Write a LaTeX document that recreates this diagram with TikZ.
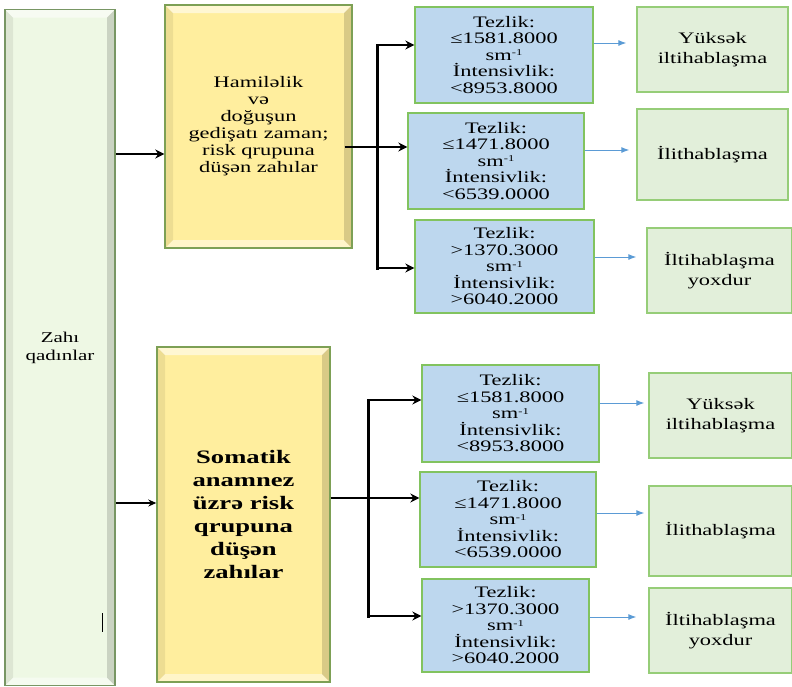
\documentclass[tikz,border=0pt]{standalone}
\usepackage{fontspec}
\setmainfont{Liberation Serif}[FakeStretch=1.4]
\usetikzlibrary{arrows.meta, positioning, calc}
\definecolor{WomenFill}{RGB}{238,248,228}
\definecolor{WomenEdge}{RGB}{120,150,100}
\definecolor{GroupFill}{RGB}{255,238,158}
\definecolor{GroupEdge}{RGB}{125,160,85}
\definecolor{ParamFill}{RGB}{189,215,238}
\definecolor{ParamEdge}{RGB}{130,195,95}
\definecolor{ResultFill}{RGB}{226,239,218}
\definecolor{ResultEdge}{RGB}{150,205,120}
\definecolor{ThinArrow}{RGB}{91,155,213}
\newcommand{\perunit}{sm\raisebox{0.3em}{\fontsize{9}{9}\selectfont -1}}
\newcommand{\paramhigh}{Tezlik:\\≤1581.8000\\\perunit\\İntensivlik:\\<8953.8000}
\newcommand{\parammid}{Tezlik:\\≤1471.8000\\\perunit\\İntensivlik:\\<6539.0000}
\newcommand{\paramlow}{Tezlik:\\>1370.3000\\\perunit\\İntensivlik:\\>6040.2000}

\begin{document}
\begin{tikzpicture}[
        x=1pt, y=-1pt,
        bevel/.style={path picture={
            \path (path picture bounding box.north west) coordinate (bnw)
                  (path picture bounding box.south east) coordinate (bse);
            \fill[white, opacity=0.55] (bnw) -- (bse |- bnw) -- ($(bse |- bnw)+(-8pt,-8pt)$) -- ($(bnw)+(8pt,-8pt)$) -- cycle;
            \fill[white, opacity=0.45] (bnw |- bse) -- (bse) -- ($(bse)+(-8pt,8pt)$) -- ($(bnw |- bse)+(8pt,8pt)$) -- cycle;
            \fill[black, opacity=0.07] (bnw) -- (bnw |- bse) -- ($(bnw |- bse)+(8pt,8pt)$) -- ($(bnw)+(8pt,-8pt)$) -- cycle;
            \fill[black, opacity=0.15] (bse |- bnw) -- (bse) -- ($(bse)+(-8pt,8pt)$) -- ($(bse |- bnw)+(-8pt,-8pt)$) -- cycle;
        }},
        women/.style={rectangle, bevel, draw=WomenEdge, fill=WomenFill, line width=1.6pt, align=center, inner sep=0pt, font=\fontsize{15}{18}\selectfont},
        group/.style={rectangle, bevel, draw=GroupEdge, fill=GroupFill, line width=1.4pt, align=center, inner sep=0pt, font=\fontsize{16}{17}\selectfont},
        param/.style={rectangle, draw=ParamEdge, fill=ParamFill, line width=1.3pt, align=center, inner sep=0pt, font=\fontsize{16}{16.5}\selectfont},
        result/.style={rectangle, draw=ResultEdge, fill=ResultFill, line width=1.3pt, align=center, inner sep=0pt, font=\fontsize{16}{20}\selectfont},
        bus/.style={line width=3pt, line cap=rect},
        busarrow/.style={line width=2.5pt, -{Stealth[length=9pt, width=9pt]}},
        thinarrow/.style={ThinArrow, line width=1pt, -{Latex[length=8pt, width=6pt]}}
    ]
    
    \useasboundingbox (0,0) rectangle (792,686);
    
    \node[women, minimum width=110pt, minimum height=676pt] (women) at (60,347.5) {Zahı\\qadınlar};
    \draw[line width=0.8pt] (102,613) -- (102,632);
    
    \node[group, minimum width=187pt, minimum height=243pt] (grp1) at (258.5,126.5) {Hamiləlik\\və\\doğuşun\\gedişatı zaman;\\risk qrupuna\\düşən zahılar};
    \node[group, minimum width=173pt, minimum height=335pt, font=\bfseries\fontsize{19}{23}\selectfont] (grp2) at (243.5,514.5) {Somatik\\anamnez\\üzrə risk\\qrupuna\\düşən\\zahılar};
    
    \node[param, minimum width=178pt, minimum height=96pt] (par1) at (504,55) {\paramhigh};
    \node[param, minimum width=176pt, minimum height=96pt] (par2) at (496,161) {\parammid};
    \node[param, minimum width=179pt, minimum height=93pt] (par3) at (504.5,266.5) {\paramlow};
    \node[param, minimum width=177pt, minimum height=97pt] (par4) at (510.5,413.5) {\paramhigh};
    \node[param, minimum width=176pt, minimum height=95pt] (par5) at (508,519.5) {\parammid};
    \node[param, minimum width=167pt, minimum height=93pt] (par6) at (505.5,625.5) {\paramlow};
    
    \node[result, minimum width=151pt, minimum height=85pt] (res1) at (712.5,49.5) {Yüksək\\iltihablaşma};
    \node[result, minimum width=151pt, minimum height=91pt] (res2) at (712.5,154.5) {İlithablaşma};
    \node[result, minimum width=145pt, minimum height=85pt] (res3) at (719.5,270.5) {İltihablaşma\\yoxdur};
    \node[result, minimum width=143pt, minimum height=85pt] (res4) at (720.5,415.5) {Yüksək\\iltihablaşma};
    \node[result, minimum width=143pt, minimum height=90pt] (res5) at (720.5,531) {İlithablaşma};
    \node[result, minimum width=143pt, minimum height=85pt] (res6) at (720.5,630.5) {İltihablaşma\\yoxdur};
    
    % women -> groups
    \coordinate (in1) at (140,154);
    \coordinate (in2) at (140,503);
    \draw[busarrow] (women.east |- in1) -- (grp1.west |- in1);
    \draw[line width=1.5pt, -{Stealth[length=8pt, width=7pt]}] (women.east |- in2) -- (grp2.west |- in2);
    
    % upper bracket
    \coordinate (sp1a) at (377,45);
    \coordinate (sp1) at (377,147);
    \coordinate (sp1b) at (377,268);
    \draw[bus] (sp1a) -- (sp1b);
    \draw[busarrow] ($(grp1.east |- sp1)+(-8pt,0)$) -- (par2.west |- sp1);
    \draw[busarrow] (sp1a) -- (par1.west |- sp1a);
    \draw[busarrow] (sp1b) -- (par3.west |- sp1b);
    
    % lower bracket
    \coordinate (sp2a) at (368,400);
    \coordinate (sp2) at (368,498);
    \coordinate (sp2b) at (368,616);
    \draw[bus] (sp2a) -- (sp2b);
    \draw[busarrow] (grp2.east |- sp2) -- (par5.west |- sp2);
    \draw[busarrow] (sp2a) -- (par4.west |- sp2a);
    \draw[busarrow] (sp2b) -- (par6.west |- sp2b);
    
    % parameters -> results
    \foreach \p/\r/\yy/\gap in {par1/res1/43/10, par2/res2/150/7, par3/res3/257/10, par4/res4/403/4, par5/res5/513/4, par6/res6/617/12}
        \draw[thinarrow, shorten >=\gap pt] (\p.east |- 0,\yy) -- (\r.west |- 0,\yy);
    
\end{tikzpicture}
\end{document}
